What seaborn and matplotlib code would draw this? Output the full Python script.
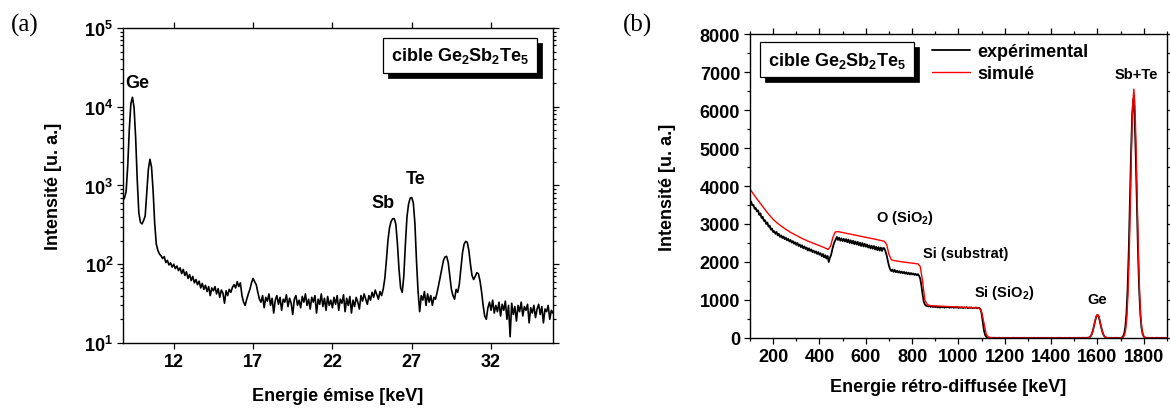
import numpy as np
import pandas as pd
import seaborn as sns
import matplotlib.pyplot as plt
from matplotlib.patches import Rectangle
from matplotlib.ticker import MultipleLocator, FixedLocator, LogLocator, NullFormatter

# (a) X-ray emission spectrum, channels every 0.1 keV from 8.8 to 35.9 keV
emis_kev = np.arange(88, 360) / 10
emis_counts = [
    640, 700, 840, 1780, 5190, 11000, 13200, 9700, 4000, 1170,
    450, 340, 325, 360, 410, 800, 1600, 2150, 1720, 850,
    330, 180, 150, 135, 128, 118, 125, 105, 112, 98,
    104, 92, 100, 88, 95, 83, 90, 76, 86, 72,
    80, 66, 74, 62, 70, 58, 64, 55, 61, 50,
    57, 48, 54, 45, 52, 40, 50, 46, 52, 42,
    49, 38, 47, 43, 32, 46, 40, 48, 44, 51,
    55, 50, 60, 52, 58, 40, 33, 30, 36, 42,
    48, 58, 66, 60, 55, 44, 36, 33, 40, 28,
    38, 34, 42, 30, 37, 24, 35, 40, 31, 38,
    26, 36, 33, 41, 29, 37, 32, 23, 36, 40,
    30, 35, 28, 39, 33, 42, 30, 36, 27, 38,
    33, 40, 24, 36, 31, 42, 29, 37, 26, 39,
    30, 35, 28, 38, 31, 40, 26, 36, 32, 41,
    25, 37, 30, 39, 24, 35, 29, 38, 33, 27,
    40, 34, 42, 36, 31, 40, 35, 44, 38, 47,
    41, 36, 45, 40, 48, 65, 110, 200, 290, 350,
    378, 380, 320, 180, 85, 50, 44, 70, 180, 400,
    580, 690, 705, 600, 330, 110, 45, 25, 40, 35,
    45, 30, 42, 33, 40, 30, 38, 36, 44, 55,
    70, 90, 112, 124, 126, 105, 70, 48, 40, 36,
    48, 44, 56, 90, 140, 180, 195, 190, 150, 100,
    72, 64, 70, 78, 76, 62, 45, 30, 22, 20,
    28, 33, 26, 35, 24, 30, 25, 33, 22, 31,
    26, 34, 20, 30, 12, 32, 23, 29, 19, 30,
    25, 33, 22, 29, 26, 31, 18, 28, 24, 30,
    21, 27, 31, 23, 29, 18, 27, 25, 30, 20,
    26, 24,
]

# (b) RBS spectrum, experimental channels every 5 keV from 100 to 1900 keV
retro_kev = np.arange(100, 1905, 5)
exp_counts = [
    3570, 3590, 3490, 3500, 3400, 3420, 3330, 3360, 3240, 3280, 3160, 3190, 3080, 3100, 3000, 3040, 2930, 2960, 2850, 2880,
    2790, 2810, 2740, 2790, 2700, 2740, 2660, 2700, 2630, 2670, 2600, 2640, 2570, 2610, 2540, 2580, 2510, 2550, 2480, 2520,
    2450, 2500, 2420, 2460, 2390, 2440, 2360, 2410, 2340, 2380, 2300, 2360, 2290, 2330, 2260, 2300, 2240, 2280, 2210, 2260,
    2190, 2230, 2150, 2210, 2120, 2180, 2090, 2160, 2000, 2110, 2180, 2320, 2440, 2530, 2590, 2660, 2580, 2640, 2560, 2620,
    2550, 2610, 2540, 2600, 2520, 2590, 2500, 2570, 2490, 2560, 2470, 2540, 2460, 2530, 2440, 2510, 2420, 2500, 2410, 2480,
    2400, 2460, 2380, 2440, 2360, 2430, 2350, 2420, 2330, 2400, 2310, 2390, 2300, 2380, 2290, 2370, 2360, 2280, 2180, 2030,
    1900, 1810, 1760, 1800, 1740, 1790, 1730, 1770, 1720, 1760, 1710, 1750, 1700, 1740, 1690, 1730, 1680, 1720, 1670, 1710,
    1670, 1700, 1660, 1690, 1650, 1680, 1640, 1560, 1380, 1150, 960, 880, 850, 840, 830, 845, 820, 835, 815, 830,
    812, 826, 805, 820, 800, 818, 806, 823, 798, 815, 804, 820, 796, 812, 801, 817, 794, 810, 799, 814,
    790, 806, 793, 809, 788, 802, 795, 811, 786, 800, 792, 806, 784, 798, 790, 803, 782, 796, 788, 760,
    640, 420, 200, 80, 30, 12, 5, 8, 3, 6, 4, 7, 2, 5, 3, 6, 4, 2, 5, 3,
    4, 2, 6, 3, 5, 1, 4, 3, 6, 2, 5, 3, 4, 1, 5, 2, 3, 6, 2, 4,
    3, 5, 2, 4, 1, 6, 3, 2, 5, 3, 4, 2, 6, 1, 3, 5, 2, 4, 3, 2,
    5, 2, 4, 3, 1, 5, 2, 6, 3, 2, 4, 1, 5, 3, 2, 4, 6, 2, 3, 5,
    3, 5, 2, 4, 6, 3, 5, 4, 6, 3, 5, 4, 8, 16, 42, 96, 188, 313, 453, 566,
    610, 570, 450, 310, 190, 95, 45, 15, 8, 4, 6, 3, 5, 2, 4, 6, 3, 5, 4, 2,
    5, 11, 36, 106, 277, 635, 1280, 2270, 3550, 4880, 5910, 6300, 5910, 4880, 3550, 2270, 1280, 635, 277, 106,
    36, 11, 5, 3, 6, 2, 4, 5, 3, 2, 4, 6, 3, 5, 2, 4, 3, 5, 2, 4,
    3,
]

sim_kev = [100, 125, 150, 175, 200, 225, 250, 275, 300, 325, 350, 375, 400, 420, 438,
           448, 458, 468, 480, 520, 560, 600, 640, 680, 690, 700, 710, 720, 760, 800,
           825, 835, 845, 855, 865, 880, 950, 1000, 1050, 1090, 1100, 1110, 1120, 1130,
           1150, 1555, 1560, 1565, 1570, 1575, 1580, 1585, 1590, 1595, 1600, 1605, 1610,
           1615, 1620, 1625, 1630, 1635, 1640, 1650, 1705, 1712, 1717, 1722, 1727, 1732,
           1737, 1742, 1747, 1752, 1757, 1762, 1767, 1772, 1777, 1782, 1787, 1792, 1797,
           1802, 1812, 1900]
sim_counts = [3920, 3700, 3500, 3300, 3120, 2990, 2880, 2780, 2700, 2620, 2550, 2490, 2430, 2380, 2330,
              2420, 2650, 2790, 2800, 2750, 2700, 2650, 2600, 2545, 2460, 2200, 2060, 2040, 2000, 1970,
              1950, 1880, 1500, 1000, 880, 850, 830, 815, 800, 790, 680, 400, 100, 20,
              0, 0, 6, 17, 43, 98, 191, 318, 460, 575, 620, 575, 460,
              318, 191, 98, 43, 17, 6, 0, 0, 25, 81, 227, 553, 1176,
              2182, 3530, 4975, 6115, 6550, 6115, 4975, 3530, 2182, 1176, 553, 227, 81,
              25, 0, 0]

left_xticks = [12, 17, 22, 27, 32]

sns.set_style('ticks')
plt.rcParams['font.family'] = ['Liberation Sans', 'DejaVu Sans']
plt.rcParams['font.weight'] = 'bold'
plt.rcParams['axes.labelweight'] = 'bold'
plt.rcParams['mathtext.fontset'] = 'custom'
plt.rcParams['mathtext.rm'] = 'Liberation Sans:bold'
plt.rcParams['mathtext.it'] = 'Liberation Sans:bold'
plt.rcParams['mathtext.bf'] = 'Liberation Sans:bold'
plt.rcParams['mathtext.default'] = 'rm'
for k in ['text.color', 'axes.labelcolor', 'xtick.color', 'ytick.color', 'axes.edgecolor']:
    plt.rcParams[k] = 'black'

fig = plt.figure(figsize=(11.7, 4.1), dpi=100)
ax1 = fig.add_axes([0.1051, 0.161, 0.3675, 0.7683])
ax2 = fig.add_axes([0.641, 0.1732, 0.3564, 0.7414])

df_a = pd.DataFrame({'E': emis_kev, 'I': emis_counts})
df_exp = pd.DataFrame({'E': retro_kev, 'I': exp_counts})
df_sim = pd.DataFrame({'E': sim_kev, 'I': sim_counts})

sns.lineplot(data=df_a, x='E', y='I', ax=ax1, color='black', lw=1.2, estimator=None)
sns.lineplot(data=df_exp, x='E', y='I', ax=ax2, color='black', lw=1.3, estimator=None,
             label='expérimental')
sns.lineplot(data=df_sim, x='E', y='I', ax=ax2, color='#ff0000', lw=1.0, estimator=None,
             label='simulé')


def style_axes(ax):
    for s in ax.spines.values():
        s.set_visible(True)
        s.set_linewidth(1.0)
        s.set_color('black')
    ax.tick_params(which='both', direction='out', top=True, right=True, labelsize=13,
                   width=0.9, pad=3)
    ax.tick_params(which='major', length=4)
    ax.tick_params(which='minor', length=2.2)
    for lab in ax.get_xticklabels() + ax.get_yticklabels():
        lab.set_fontweight('bold')


# panel (a)
ax1.set_yscale('log')
ax1.set_xlim(8.8, 35.9)
ax1.set_ylim(10, 1e5)
ax1.xaxis.set_major_locator(FixedLocator(left_xticks))
ax1.yaxis.set_major_locator(LogLocator(base=10, numticks=10))
ax1.yaxis.set_minor_locator(LogLocator(base=10, subs=np.arange(2, 10), numticks=20))
ax1.yaxis.set_minor_formatter(NullFormatter())
ax1.set_xlabel('Energie émise [keV]', fontsize=13, fontweight='bold')
ax1.set_ylabel('Intensité [u. a.]', fontsize=13, fontweight='bold')
style_axes(ax1)
ax1.xaxis.set_label_coords(0.5, -0.14)
ax1.yaxis.set_label_coords(-0.142, 0.5)

ax1.text(9.69, 20600, 'Ge', fontsize=13, fontweight='bold', ha='center', va='center')
ax1.text(25.18, 616, 'Sb', fontsize=13, fontweight='bold', ha='center', va='center')
ax1.text(27.27, 1210, 'Te', fontsize=13, fontweight='bold', ha='center', va='center')

# panel (b)
ax2.set_xlim(100, 1900)
ax2.set_ylim(0, 8000)
ax2.xaxis.set_major_locator(MultipleLocator(200))
ax2.xaxis.set_minor_locator(MultipleLocator(100))
ax2.yaxis.set_major_locator(MultipleLocator(1000))
ax2.yaxis.set_minor_locator(MultipleLocator(500))
ax2.set_xlabel('Energie rétro-diffusée [keV]', fontsize=13, fontweight='bold')
ax2.set_ylabel('Intensité [u. a.]', fontsize=13, fontweight='bold')
style_axes(ax2)
ax2.xaxis.set_label_coords(0.475, -0.13)
ax2.yaxis.set_label_coords(-0.177, 0.5)

leg = ax2.legend(loc='upper left', bbox_to_anchor=(0.437, 0.97), frameon=False,
                 handlelength=2.1, handletextpad=0.4, labelspacing=0.28,
                 borderaxespad=0, borderpad=0, prop={'size': 13, 'weight': 'bold'})

for txt, x, y in [('O (SiO$_2$)', 769, 3184), ('Si (substrat)', 1032, 2237),
                  ('Si (SiO$_2$)', 1196, 1210), ('Ge', 1598, 1026), ('Sb+Te', 1766, 6947)]:
    ax2.text(x, y, txt, fontsize=10.5, fontweight='bold', ha='center', va='center')

# boxed sample labels with a drop shadow drawn as a rectangle behind the box
boxes = []
for ax, x, y in [(ax1, 0.784, 0.913), (ax2, 0.209, 0.916)]:
    t = ax.text(x, y, 'cible Ge$_2$Sb$_2$Te$_5$', transform=ax.transAxes, fontsize=13,
                fontweight='bold', ha='center', va='center', zorder=6,
                bbox=dict(boxstyle='square,pad=0.42', fc='white', ec='black', lw=0.9))
    boxes.append((ax, t))

fig.canvas.draw()
for ax, t in boxes:
    bb = t.get_bbox_patch().get_window_extent()
    inv = ax.transAxes.inverted()
    (x0, y0), (x1, y1) = inv.transform([(bb.x0 + 5, bb.y0 - 5), (bb.x1 + 5, bb.y1 - 5)])
    ax.add_patch(Rectangle((x0, y0), x1 - x0, y1 - y0, transform=ax.transAxes,
                           fc='black', ec='black', lw=0.5, zorder=5, clip_on=False))

fig.text(25 / 1170, 1 - 25 / 410, '(a)', fontsize=18, fontweight='normal',
         family='Liberation Serif', ha='center', va='center')
fig.text(637 / 1170, 1 - 25 / 410, '(b)', fontsize=18, fontweight='normal',
         family='Liberation Serif', ha='center', va='center')

fig.savefig('out.png', dpi=100)
